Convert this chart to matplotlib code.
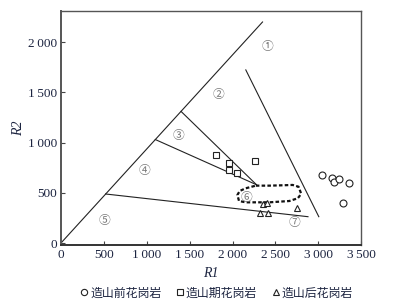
import matplotlib
matplotlib.use("Agg")
import matplotlib.pyplot as plt
from matplotlib.lines import Line2D

# R1-R2 discrimination diagram
xticks = [0, 500, 1000, 1500, 2000, 2500, 3000, 3500]
xticklabels = ['0', '500', '1\u2009000', '1\u2009500', '2\u2009000', '2\u2009500', '3\u2009000', '3\u2009500']
yticks = [0, 500, 1000, 1500, 2000]
yticklabels = ['0', '500', '1\u2009000', '1\u2009500', '2\u2009000']

# field boundaries (x list, y list)
bound_lines = [
    ([0, 2350], [0, 2200]),
    ([1400, 2280], [1310, 580]),
    ([1100, 2280], [1030, 580]),
    ([520, 2880], [488, 262]),
    ([2155, 3006], [1723, 262]),
]
field6_x = [2272, 2428, 2600, 2701, 2770, 2799, 2780, 2760, 2662, 2428, 2155, 2076, 2057, 2084, 2155, 2272]
field6_y = [571, 571, 575, 578, 560, 495, 465, 445, 418, 405, 405, 418, 478, 518, 545, 571]

field_labels = ['①', '②', '③', '④', '⑤', '⑥', '⑦']
field_lx = [2408, 1842, 1366, 976, 504, 2166, 2720]
field_ly = [1955, 1474, 1069, 717, 229, 455, 202]

pre_x = [3041, 3158, 3181, 3247, 3353, 3287]
pre_y = [677, 644, 611, 634, 595, 395]
syn_x = [1811, 1960, 1960, 2049, 2268]
syn_y = [880, 794, 727, 697, 820]
post_x = [2357, 2408, 2318, 2412, 2752]
post_y = [388, 395, 302, 302, 350]

names = ['造山前花岗岩', '造山期花岗岩', '造山后花岗岩']

txtc = '#1c2440'
serif = 'Liberation Serif'
cjk = ['Noto Sans CJK SC', 'DejaVu Sans']

fig = plt.figure(figsize=(3.96, 3.04), dpi=100)
ax = fig.add_axes([0.154, 0.194, 0.758, 0.770])

for xs, ys in bound_lines:
    ax.plot(xs, ys, color='#222222', lw=0.8)
ax.plot(field6_x, field6_y, color='#111111', lw=1.6, ls=(0, (1.6, 1.0)))

for t, x, y in zip(field_labels, field_lx, field_ly):
    ax.text(x, y, t, ha='center', va='center', fontsize=8.5, color='#777777', family=cjk)

mk = dict(ls='none', mfc='white', mec='#222222', mew=0.8, ms=5)
ax.plot(pre_x, pre_y, marker='o', **mk)
ax.plot(syn_x, syn_y, marker='s', **mk)
ax.plot(post_x, post_y, marker='^', **mk)

ax.set_xlim(0, 3500)
ax.set_ylim(-20, 2310)
ax.set_xticks(xticks)
ax.set_xticklabels(xticklabels, family=serif, fontsize=9.5, color=txtc)
ax.set_yticks(yticks)
ax.set_yticklabels(yticklabels, family=serif, fontsize=9.5, color=txtc)
ax.tick_params(direction='in', length=3, width=0.8, color='#444444', pad=3)
for s in ax.spines.values():
    s.set_color('#555555')
    s.set_linewidth(1.0)
ax.spines['bottom'].set_color('#333333')
ax.spines['bottom'].set_linewidth(1.4)
ax.spines['left'].set_linewidth(1.4)

ax.set_xlabel('R1', family=serif, style='italic', fontsize=10, color=txtc, labelpad=4)
ax.set_ylabel('R2', family=serif, style='italic', fontsize=10, color=txtc, labelpad=2)

hk = dict(ls='none', mfc='white', mec='#222222', mew=0.8, ms=4.5)
handles = [Line2D([], [], marker='o', **hk),
           Line2D([], [], marker='s', **hk),
           Line2D([], [], marker='^', **hk)]
leg = fig.legend(handles, names, loc='center', bbox_to_anchor=(0.548, 0.036), ncol=3,
                 frameon=False, handlelength=0.5, handletextpad=0.25, columnspacing=1.3,
                 prop={'family': cjk, 'size': 8.6})
for t in leg.get_texts():
    t.set_color(txtc)

fig.savefig('out.png', dpi=100)
